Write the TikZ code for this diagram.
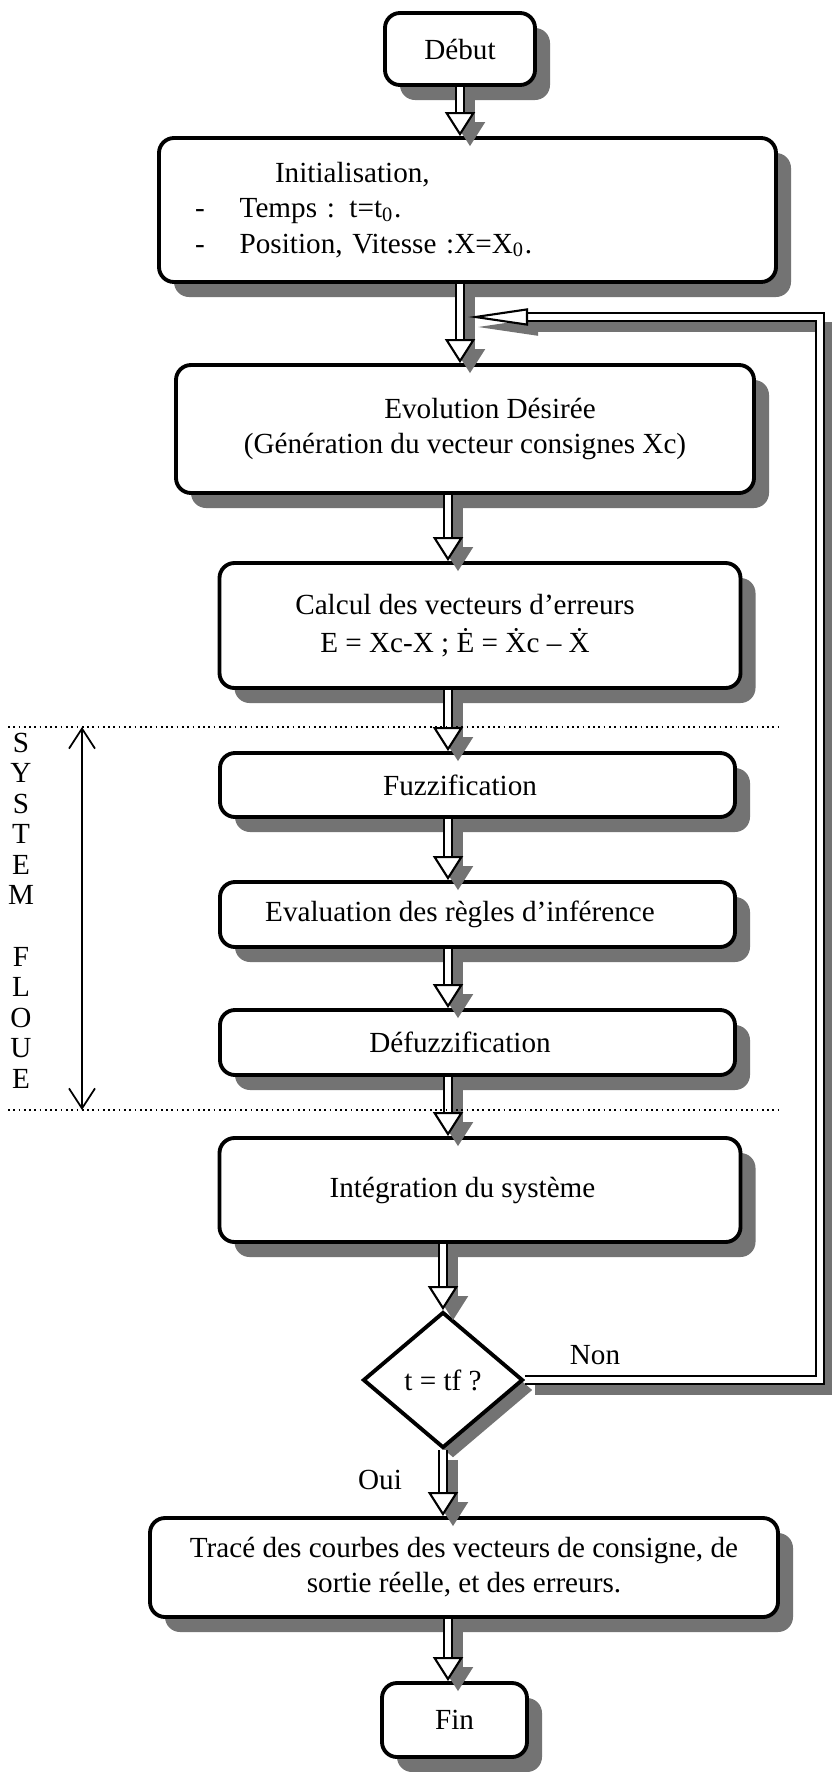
\documentclass[tikz,border=0pt]{standalone}
\usepackage{fontspec}
\setmainfont{Liberation Serif}
\usetikzlibrary{shapes.geometric,shadows,arrows.meta}

\tikzset{
	box/.style={draw, line width=1.1pt, rounded corners=0.15cm, fill=white, inner sep=0pt, align=center,
		drop shadow={shadow xshift=0.15cm, shadow yshift=-0.15cm, fill=black!55, opacity=1}},
	decision/.style={diamond, draw, line width=1.1pt, fill=white, inner sep=0pt, aspect=1.18,
		drop shadow={shadow xshift=0.1cm, shadow yshift=-0.1cm, fill=black!55, opacity=1}},
	flow/.style={double=white, double distance=1.8pt, line width=0.6pt,
		-{Triangle[length=0.24cm, width=0.3cm, fill=white]},
		preaction={draw=black!55, double=black!55, -{Triangle[length=0.24cm, width=0.3cm]},
			transform canvas={shift={(0.1cm,-0.1cm)}}}},
	loopback/.style={double=white, double distance=1.8pt, line width=0.6pt,
		-{Triangle[length=0.6cm, width=0.17cm, fill=white]},
		preaction={draw=black!55, double=black!55, -{Triangle[length=0.6cm, width=0.17cm]},
			transform canvas={shift={(0.1cm,-0.1cm)}}}},
	zone/.style={densely dotted, line width=0.5pt},
}

\begin{document}
\begin{tikzpicture}[font=\fontsize{8.3}{10}\selectfont]
	\useasboundingbox (0,0) rectangle (8.32,-17.72);
	\coordinate (axis) at (4.48,0);
	\coordinate (loop) at (8.20,-3.17);
	\coordinate (J) at (4.68,-3.17);

	\node[box, minimum width=1.50cm, minimum height=0.72cm] (deb) at (4.60,-0.49) {Début};
	\node[box, minimum width=6.17cm, minimum height=1.44cm, text width=5.45cm, align=left] (init) at (4.675,-2.10)
		{\hspace*{0.8cm}Initialisation,\\-\hspace{0.35cm}Temps : t=t\textsubscript{0}.\\-\hspace{0.35cm}Position, Vitesse :X=X\textsubscript{0}.};
	\node[box, minimum width=5.78cm, minimum height=1.28cm] (evol) at (4.65,-4.29)
		{\hspace*{0.5cm}Evolution Désirée\\(Génération du vecteur consignes Xc)};
	\node[box, minimum width=5.21cm, minimum height=1.25cm] (calc) at (4.80,-6.255)
		{Calcul des vecteurs d’erreurs\hspace*{0.3cm}\\[1pt]E = Xc-X ; \.{E} = \.{X}c -- \.{X}\hspace*{0.5cm}};
	\node[box, minimum width=5.15cm, minimum height=0.64cm] (fuzz) at (4.775,-7.85) {Fuzzification\hspace*{0.35cm}};
	\node[box, minimum width=5.15cm, minimum height=0.65cm] (eval) at (4.775,-9.145) {Evaluation des règles d’inférence\hspace*{0.35cm}};
	\node[box, minimum width=5.15cm, minimum height=0.65cm] (defuzz) at (4.775,-10.425) {Défuzzification\hspace*{0.35cm}};
	\node[box, minimum width=5.21cm, minimum height=1.04cm] (integ) at (4.80,-11.90) {Intégration du système\hspace*{0.35cm}};
	\node[decision, minimum width=1.60cm, minimum height=1.36cm] (test) at (4.43,-13.80) {t = tf ?};
	\node[box, minimum width=6.28cm, minimum height=0.99cm] (trace) at (4.64,-15.675)
		{Tracé des courbes des vecteurs de consigne, de\\sortie réelle, et des erreurs.};
	\node[box, minimum width=1.45cm, minimum height=0.74cm] (fin) at (4.545,-17.20) {Fin};
	\node (non) at (5.95,-13.55) {Non};
	\node (oui) at (3.80,-14.80) {Oui};

	\draw [flow] (deb.south) -- (deb.south |- init.north);
	\draw [flow] (init.south -| deb.south) -- (evol.north -| deb.south);
	\draw [flow] (evol.south -| axis) -- (calc.north -| axis);
	\draw [flow] (calc.south -| axis) -- (fuzz.north -| axis);
	\draw [flow] (fuzz.south -| axis) -- (eval.north -| axis);
	\draw [flow] (eval.south -| axis) -- (defuzz.north -| axis);
	\draw [flow] (defuzz.south -| axis) -- (integ.north -| axis);
	\draw [flow] (integ.south -| test) -- (test.north);
	\draw [flow] (test.south) -- (test.south |- trace.north);
	\draw [flow] (trace.south -| axis) -- (fin.north -| axis);
	\draw [loopback] (test.east) -| (loop) -- (J);

	\coordinate (zt) at (0.82,-7.27);
	\coordinate (zb) at (0.82,-11.10);
	\draw [zone] (0.08,-7.27) -- (7.80,-7.27);
	\draw [zone] (0.08,-11.10) -- (7.80,-11.10);
	\draw [{Straight Barb[length=0.2cm, width=0.26cm]}-{Straight Barb[length=0.2cm, width=0.26cm]}, line width=0.5pt] (zt) -- (zb);
	\node[align=center, font=\fontsize{8.3}{8.7}\selectfont] (sf) at (0.21,-9.105)
		{S\\Y\\S\\T\\E\\M\\\mbox{}\\F\\L\\O\\U\\E};
\end{tikzpicture}
\end{document}
